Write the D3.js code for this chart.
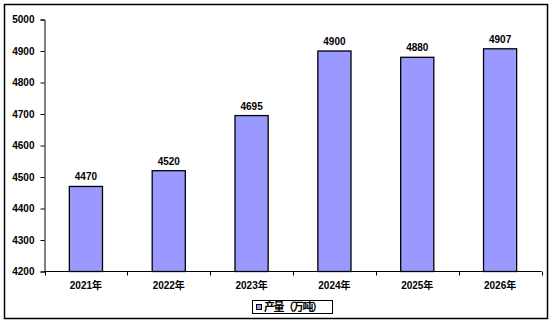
<!DOCTYPE html>
<html><head><meta charset="utf-8">
<script src="https://cdn.jsdelivr.net/npm/d3@7"></script>
<style>body{margin:0;background:#fff}svg{display:block}text{font-family:"Liberation Sans",Arial,"Noto Sans CJK SC",sans-serif;font-weight:bold;font-size:10px;fill:#000}</style>
</head><body>
<script>
const categories = ["2021年","2022年","2023年","2024年","2025年","2026年"];
const values = [4470,4520,4695,4900,4880,4907];
const yTicks = [4200,4300,4400,4500,4600,4700,4800,4900,5000];
const seriesName = "产量（万吨）";

(function(){
const W=554,H=324;
const svg=d3.select("body").append("svg").attr("width",W).attr("height",H);
svg.append("rect").attr("x",4.5).attr("y",4.5).attr("width",543).attr("height",314).attr("fill","#fff").attr("stroke","#000").attr("stroke-width",1.5);

const pl=44.5,pr=541.5,pt=19.5,pb=271.5;
const x=d3.scaleBand().domain(categories).range([pl,pr]).paddingInner(0.6).paddingOuter(0.3);
const xOuter=d3.scaleBand().domain(categories).range([pl,pr]);
const y=d3.scaleLinear().domain([4200,5000]).range([pb,pt]);

svg.selectAll("rect.bar").data(values).enter().append("rect").attr("class","bar")
 .attr("x",(d,i)=>x(categories[i])).attr("width",x.bandwidth())
 .attr("y",d=>y(d)).attr("height",d=>pb-y(d))
 .attr("fill","#9999FF").attr("stroke","#000").attr("stroke-width",1.3);

const yAxis=d3.axisLeft(y).tickValues(yTicks).tickSize(4).tickPadding(6).tickFormat(d3.format("d"));
const ga=svg.append("g").attr("transform",`translate(${pl},0)`).call(yAxis);
ga.select(".domain").attr("stroke","#000");
ga.selectAll("text").style("font-size","10px").style("font-weight","bold").attr("fill","#000");

svg.append("line").attr("x1",pl).attr("x2",pr).attr("y1",pb).attr("y2",pb).attr("stroke","#000");
const bounds=categories.map(c=>xOuter(c)).concat([pr]);
svg.selectAll("line.xt").data(bounds).enter().append("line")
 .attr("x1",d=>Math.round(d)+0.5).attr("x2",d=>Math.round(d)+0.5).attr("y1",pb).attr("y2",pb+4).attr("stroke","#000");
svg.selectAll("text.xl").data(categories).enter().append("text")
 .attr("x",d=>xOuter(d)+xOuter.bandwidth()/2).attr("y",289).attr("text-anchor","middle").text(d=>d);

svg.selectAll("text.vl").data(values).enter().append("text")
 .attr("x",(d,i)=>x(categories[i])+x.bandwidth()/2).attr("y",d=>y(d)-6).attr("text-anchor","middle").text(d=>d);

svg.append("rect").attr("x",252.5).attr("y",300.5).attr("width",80).attr("height",13).attr("fill","#fff").attr("stroke","#000");
svg.append("rect").attr("x",256.5).attr("y",304.5).attr("width",5).attr("height",5).attr("fill","#9999FF").attr("stroke","#000");
svg.append("text").attr("x",264).attr("y",311).style("font-size","11px").attr("textLength",59).text(seriesName);
})();
</script>
</body></html>
